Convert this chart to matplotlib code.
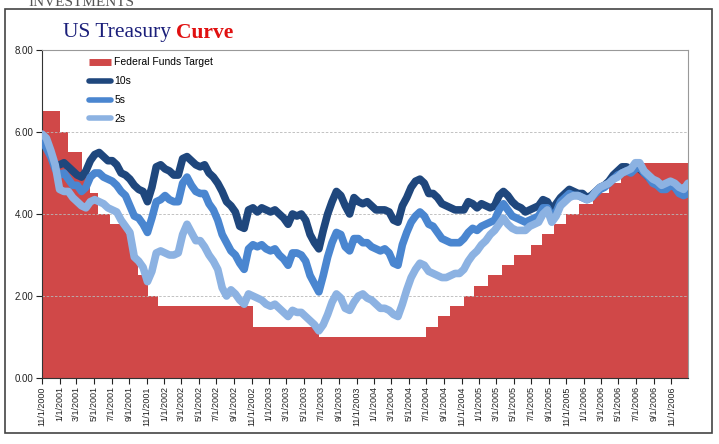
import matplotlib
matplotlib.use("Agg")
import matplotlib.pyplot as plt
from matplotlib.patches import Rectangle
from matplotlib.lines import Line2D
import pandas as pd

# Fed funds target changes
fed_dates = ["2000-11-01", "2001-01-03", "2001-01-31", "2001-03-20", "2001-04-18",
             "2001-05-15", "2001-06-27", "2001-08-21", "2001-09-17", "2001-10-02",
             "2001-11-06", "2001-12-11", "2002-11-06", "2003-06-25", "2004-06-30",
             "2004-08-10", "2004-09-21", "2004-11-10", "2004-12-14", "2005-02-02",
             "2005-03-22", "2005-05-03", "2005-06-30", "2005-08-09", "2005-09-20",
             "2005-11-01", "2005-12-13", "2006-01-31", "2006-03-28", "2006-05-10",
             "2006-06-29", "2006-12-29"]
fed_rates = [6.5, 6.0, 5.5, 5.0, 4.5, 4.0, 3.75, 3.5, 3.0, 2.5, 2.0, 1.75, 1.25, 1.0,
             1.25, 1.5, 1.75, 2.0, 2.25, 2.5, 2.75, 3.0, 3.25, 3.5, 3.75, 4.0, 4.25,
             4.5, 4.75, 5.0, 5.25, 5.25]

# semi-monthly yields, Nov 2000 - Dec 2006
tens = [5.85, 5.7, 5.45, 5.2, 5.2, 5.25, 5.15, 5.05, 4.95, 4.9, 5.05, 5.3, 5.45, 5.5,
        5.4, 5.3, 5.3, 5.2, 5.0, 4.95, 4.85, 4.7, 4.6, 4.55, 4.3, 4.65, 5.15, 5.2,
        5.1, 5.05, 4.95, 4.95, 5.35, 5.4, 5.3, 5.2, 5.15, 5.2, 5.0, 4.9,
        4.75, 4.55, 4.3, 4.2, 4.05, 3.7, 3.65, 4.1, 4.15, 4.05, 4.15, 4.1,
        4.05, 4.1, 4.0, 3.9, 3.75, 4.0, 3.95, 4.0, 3.85, 3.5, 3.3, 3.15,
        3.6, 4.0, 4.3, 4.55, 4.45, 4.2, 4.0, 4.4, 4.3, 4.25, 4.3, 4.2,
        4.1, 4.1, 4.1, 4.05, 3.85, 3.8, 4.2, 4.4, 4.65, 4.8, 4.85, 4.75,
        4.5, 4.5, 4.4, 4.25, 4.2, 4.15, 4.1, 4.1, 4.1, 4.3, 4.25, 4.15,
        4.25, 4.2, 4.15, 4.2, 4.45, 4.55, 4.45, 4.3, 4.2, 4.15, 4.05, 4.1,
        4.15, 4.2, 4.35, 4.3, 4.1, 4.25, 4.4, 4.5, 4.6, 4.55, 4.5, 4.5,
        4.4, 4.45, 4.55, 4.65, 4.7, 4.8, 4.95, 5.05, 5.15, 5.15, 5.1, 5.15,
        5.1, 5.0, 4.9, 4.8, 4.75, 4.65, 4.7, 4.75, 4.65, 4.55, 4.5, 4.6]
fives = [5.8, 5.6, 5.4, 5.1, 4.95, 5.0, 4.85, 4.7, 4.7, 4.55, 4.65, 4.9, 5.0, 5.0,
         4.9, 4.85, 4.8, 4.7, 4.55, 4.45, 4.2, 3.95, 3.9, 3.75, 3.55, 3.9, 4.3, 4.35,
         4.45, 4.35, 4.3, 4.3, 4.75, 4.9, 4.7, 4.55, 4.5, 4.5, 4.25, 4.1,
         3.85, 3.5, 3.3, 3.1, 3.0, 2.8, 2.65, 3.15, 3.25, 3.2, 3.25, 3.15,
         3.1, 3.15, 3.0, 2.9, 2.75, 3.05, 3.05, 3.0, 2.85, 2.5, 2.3, 2.1,
         2.5, 2.95, 3.3, 3.55, 3.5, 3.2, 3.1, 3.4, 3.4, 3.3, 3.3, 3.2,
         3.15, 3.1, 3.15, 3.05, 2.8, 2.75, 3.25, 3.55, 3.8, 3.95, 4.05, 3.95,
         3.75, 3.7, 3.55, 3.4, 3.35, 3.3, 3.3, 3.3, 3.4, 3.55, 3.65, 3.6,
         3.7, 3.75, 3.8, 3.85, 4.1, 4.25, 4.1, 3.95, 3.9, 3.85, 3.8, 3.85,
         3.9, 3.95, 4.15, 4.15, 3.95, 4.05, 4.3, 4.4, 4.5, 4.45, 4.45, 4.4,
         4.35, 4.4, 4.5, 4.6, 4.65, 4.75, 4.85, 4.95, 5.0, 5.05, 5.0, 5.1,
         5.15, 5.0, 4.9, 4.75, 4.7, 4.6, 4.6, 4.7, 4.65, 4.5, 4.45, 4.5]
twos = [5.95, 5.85, 5.55, 5.2, 4.6, 4.55, 4.55, 4.4, 4.3, 4.2, 4.15, 4.3, 4.35, 4.3,
        4.25, 4.15, 4.1, 4.05, 3.85, 3.7, 3.55, 2.95, 2.85, 2.7, 2.35, 2.6, 3.05, 3.1,
        3.05, 3.0, 3.0, 3.05, 3.5, 3.75, 3.55, 3.35, 3.35, 3.2, 3.0, 2.85,
        2.65, 2.2, 2.0, 2.15, 2.05, 1.9, 1.8, 2.05, 2.0, 1.95, 1.9, 1.8,
        1.75, 1.8, 1.7, 1.6, 1.5, 1.65, 1.6, 1.6, 1.5, 1.4, 1.3, 1.15,
        1.3, 1.55, 1.85, 2.05, 1.95, 1.7, 1.65, 1.85, 2.0, 2.05, 1.95, 1.9,
        1.8, 1.7, 1.7, 1.65, 1.55, 1.5, 1.8, 2.15, 2.45, 2.65, 2.8, 2.75,
        2.6, 2.55, 2.5, 2.45, 2.45, 2.5, 2.55, 2.55, 2.65, 2.85, 3.0, 3.1,
        3.25, 3.35, 3.5, 3.6, 3.75, 3.9, 3.75, 3.65, 3.6, 3.6, 3.6, 3.7,
        3.75, 3.8, 4.0, 4.1, 3.8, 3.95, 4.2, 4.3, 4.4, 4.45, 4.45, 4.4,
        4.35, 4.4, 4.55, 4.65, 4.7, 4.75, 4.85, 4.9, 5.0, 5.05, 5.1, 5.25,
        5.25, 5.05, 4.95, 4.85, 4.8, 4.7, 4.75, 4.8, 4.75, 4.65, 4.6, 4.75]

start, end = "2000-11-01", "2006-12-29"
dates = pd.date_range(start, end, periods=len(tens))
fed_d = pd.to_datetime(fed_dates)

c_red = "#D04848"
c_10 = "#1F477D"
c_5 = "#4A86D0"
c_2 = "#8CB2E2"

fig = plt.figure(figsize=(7.19, 4.44), dpi=100)
ax = fig.add_axes([42 / 719, 66 / 444, 646 / 719, 328 / 444])

ax.fill_between(fed_d, 0, fed_rates, step="post", color=c_red, lw=0, zorder=1)
ax.plot(dates, tens, color=c_10, lw=5.5, zorder=2, solid_capstyle="round", solid_joinstyle="round")
ax.plot(dates, fives, color=c_5, lw=5.5, zorder=3, solid_capstyle="round", solid_joinstyle="round")
ax.plot(dates, twos, color=c_2, lw=5.5, zorder=4, solid_capstyle="round", solid_joinstyle="round")

ax.set_xlim(pd.Timestamp(start), pd.Timestamp(end))
ax.set_ylim(0, 8)
ax.set_yticks([0, 2, 4, 6, 8])
ax.set_yticklabels([f"{v:.2f}" for v in [0, 2, 4, 6, 8]], fontsize=7, family="Liberation Sans")

xt = pd.date_range("2000-11-01", "2006-11-01", freq="2MS")
ax.set_xticks(xt)
ax.set_xticklabels([f"{d.month}/{d.day}/{d.year}" for d in xt], rotation=90,
                   fontsize=6.5, family="Liberation Sans")
ax.tick_params(axis="both", length=4, width=0.8, direction="out", pad=2, colors="#222222")

ax.set_axisbelow("line")
ax.yaxis.grid(True, color="#B8B8B8", linestyle=(0, (3, 2)), linewidth=0.6)
ax.spines["left"].set_color("#333333")
ax.spines["bottom"].set_color("#333333")
ax.spines["top"].set_color("#999999")
ax.spines["right"].set_color("#999999")

handles = [Line2D([], [], color=c_red, lw=5, solid_capstyle="butt"),
           Line2D([], [], color=c_10, lw=4, solid_capstyle="round"),
           Line2D([], [], color=c_5, lw=4, solid_capstyle="round"),
           Line2D([], [], color=c_2, lw=4, solid_capstyle="round")]
ax.legend(handles, ["Federal Funds Target", "10s", "5s", "2s"], loc="upper left",
          bbox_to_anchor=(0.066, 0.99), frameon=False, handlelength=2.1,
          handletextpad=0.35, labelspacing=0.85, borderaxespad=0,
          prop={"family": "Liberation Sans", "size": 7.5})

# outer frame
fig.patches.append(Rectangle((5 / 719, 11 / 444), 707 / 719, 424 / 444,
                             transform=fig.transFigure, fill=False,
                             edgecolor="#444444", lw=1.2))

fig.text(28 / 719, 0.995, "INVESTMENTS", family="Liberation Serif", fontsize=11,
         color="#555555", va="center", ha="left")

t1 = fig.text(63 / 719, 411 / 444, "US Treasury ", family="Liberation Serif",
              fontsize=15.5, color="#1B1F7A", va="center", ha="left")
fig.canvas.draw()
bb = t1.get_window_extent()
fig.text(bb.x1 / fig.bbox.width, 411 / 444, "Curve", family="Liberation Serif",
         fontsize=15.5, color="#E01010", fontweight="bold", va="center", ha="left")

fig.savefig("out.png", dpi=100)
